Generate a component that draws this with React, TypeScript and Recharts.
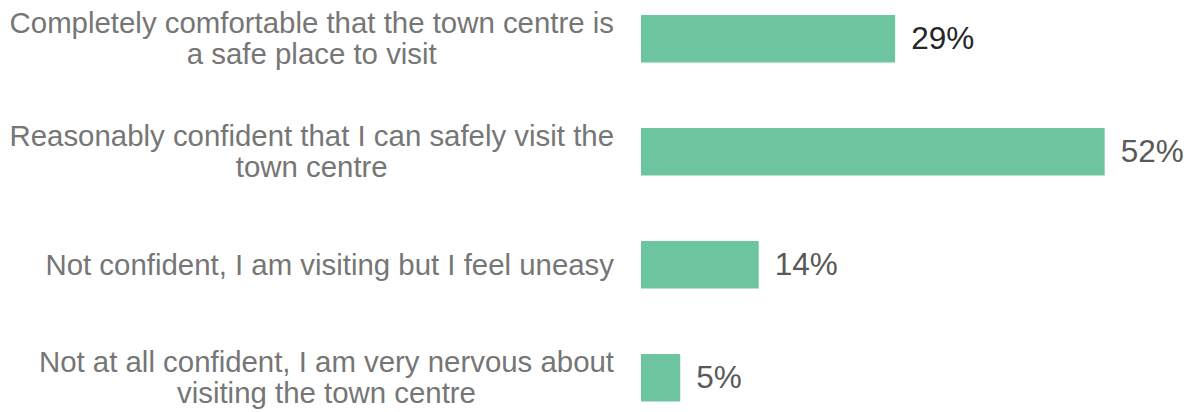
import { BarChart, Bar, XAxis, YAxis, LabelList } from "recharts";

// survey answers, top to bottom
const categories = [
  "Completely comfortable that the town centre is|a safe place to visit",
  "Reasonably confident that I can safely visit the|town centre",
  "Not confident, I am visiting but I feel uneasy",
  "Not at all confident, I am very nervous about|visiting the town centre",
];
// bar lengths (percent)
const shares = [28.5, 52, 13.2, 4.4];
// value labels as printed next to the bars
const shareLabels = ["29%", "52%", "14%", "5%"];

const data = categories.map((c, i) => ({ name: c, share: shares[i], label: shareLabels[i] }));

const FONT = '"Liberation Sans", Arial, Helvetica, sans-serif';
const BAR_COLOR = "#6CC59E";
const CAT_COLOR = "#767676";
const LABEL_COLOR = "#595959";
const LABEL_HIGHLIGHT = "#262626";
const CAT_SIZE = 29.4;
const TEXT_RIGHT = 614;

let ctx: CanvasRenderingContext2D | null = null;
function measure(text: string): number {
  if (!ctx) {
    ctx = document.createElement("canvas").getContext("2d");
    if (ctx) ctx.font = `${CAT_SIZE}px ${FONT}`;
  }
  return ctx ? ctx.measureText(text).width : text.length * CAT_SIZE * 0.5;
}

function CategoryTick(props: any) {
  const { y, payload } = props;
  const lines: string[] = String(payload.value).split("|");
  const widest = Math.max(...lines.map(measure));
  const cx = TEXT_RIGHT - widest / 2;
  const lineH = 31;
  const top = y - ((lines.length - 1) * lineH) / 2;
  return (
    <g>
      {lines.map((l, i) => (
        <text
          key={i}
          x={cx}
          y={top + i * lineH + 10}
          textAnchor="middle"
          fontSize={CAT_SIZE}
          fontFamily={FONT}
          fill={CAT_COLOR}
        >
          {l}
        </text>
      ))}
    </g>
  );
}

function ValueLabel(props: any) {
  const { x, y, width, height, value, index } = props;
  return (
    <text
      x={x + width + 16}
      y={y + height / 2 + 10.5}
      fontSize={31.5}
      fontFamily={FONT}
      fill={index === 0 ? LABEL_HIGHLIGHT : LABEL_COLOR}
    >
      {value}
    </text>
  );
}

export default function App() {
  return (
    <div
      style={{
        position: "absolute",
        left: 0,
        top: 0,
        width: 1191,
        height: 412,
        overflow: "hidden",
        background: "#fff",
      }}
    >
      <div style={{ position: "absolute", left: 0, top: -18.5 }}>
        <BarChart
          width={1191}
          height={452}
          layout="vertical"
          data={data}
          margin={{ top: 0, right: 15, left: 0, bottom: 0 }}
          barCategoryGap={0}
        >
          <XAxis type="number" domain={[0, 60]} hide />
          <YAxis
            type="category"
            dataKey="name"
            width={641}
            axisLine={false}
            tickLine={false}
            tick={<CategoryTick />}
            interval={0}
          />
          <Bar dataKey="share" fill={BAR_COLOR} barSize={47.5} isAnimationActive={false}>
            <LabelList dataKey="label" content={<ValueLabel />} />
          </Bar>
        </BarChart>
      </div>
    </div>
  );
}
